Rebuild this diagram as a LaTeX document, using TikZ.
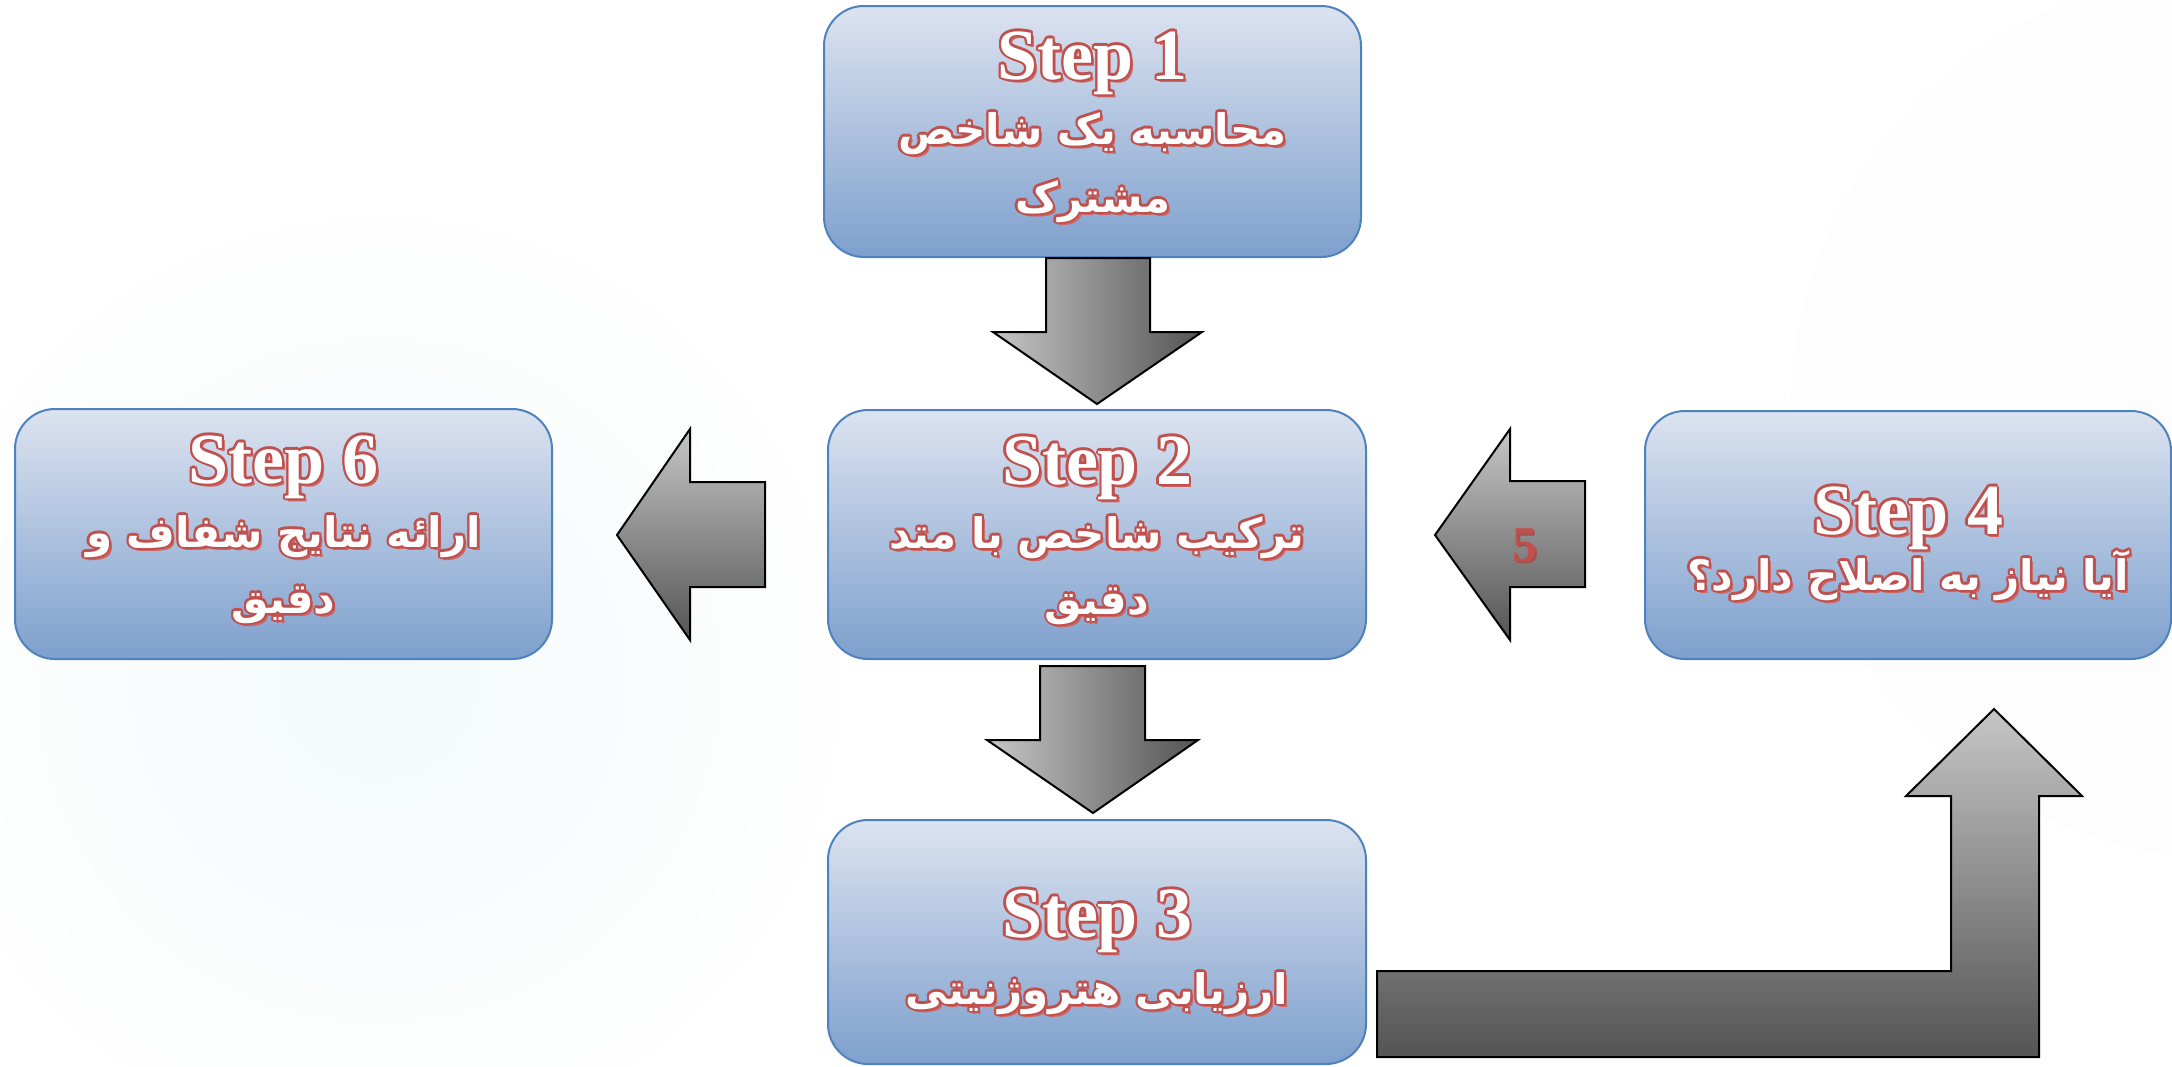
\documentclass[tikz,border=0pt]{standalone}
\usepackage{fontspec}
\setmainfont{Liberation Serif}
\newfontfamily\arabicfont[Script=Arabic]{DejaVu Sans}
\TeXXeTstate=1
\usetikzlibrary{calc}

\definecolor{boxtop}{RGB}{220,227,240}
\definecolor{boxbot}{RGB}{126,160,205}
\definecolor{boxline}{RGB}{79,129,189}
\definecolor{txtred}{RGB}{192,80,77}
\definecolor{shadowred}{RGB}{205,100,98}
\definecolor{arrlight}{RGB}{198,198,198}
\definecolor{arrdark}{RGB}{84,84,84}
\definecolor{ripple}{RGB}{150,210,210}

% white letters with a red rim and a red drop shadow
\newbox\haloBox
\newcommand\halo[2][2.2]{%
  \setbox\haloBox\hbox{#2}%
  \rlap{\kern3pt\raisebox{-3pt}{\textcolor{shadowred}{\copy\haloBox}}}%
  \foreach \ang in {0,30,...,330}{%
    \rlap{\kern\fpeval{round(#1*cosd(\ang),3)}pt\raisebox{\fpeval{round(#1*sind(\ang),3)}pt}{\textcolor{txtred}{\copy\haloBox}}}}%
  \textcolor{white}{\copy\haloBox}}
\newcommand\stepfont{\fontsize{72}{72}\selectfont\bfseries}
\newcommand\fafont{\arabicfont\bfseries\fontsize{42}{42}\selectfont}
\newcommand\fa[1]{\halo{\fafont\beginR #1\endR}}

\begin{document}
\begin{tikzpicture}[x=1pt,y=-1pt,
  stepbox/.style={rectangle, rounded corners=40pt, draw=boxline, line width=2pt,
    top color=boxtop, bottom color=boxbot, inner sep=0pt},
  blockarrow/.style={draw=black, line width=2pt, line join=miter},
  txt/.style={inner sep=0pt, anchor=base}]

\useasboundingbox (0,0) rectangle (2172,1066);

% background with faint ripples
\begin{scope}
  \clip (0,0) rectangle (2172,1066);
  \fill[white] (0,0) rectangle (2172,1066);
  \foreach \r [count=\i, evaluate=\i as \p using int(1+0.7*\i)] in {460,430,...,40}
    \fill[ripple!\p!white] (378,680) circle (\r);
  \fill[black!0.6] (2235,415) circle (445);
\end{scope}

% step boxes
\node[stepbox, minimum width=537pt, minimum height=251pt] (s1) at (1092.5,131.5) {};
\node[stepbox, minimum width=538pt, minimum height=249pt] (s2) at (1097,534.5) {};
\node[stepbox, minimum width=538pt, minimum height=244pt] (s3) at (1097,942) {};
\node[stepbox, minimum width=526pt, minimum height=248pt] (s4) at (1908,535) {};
\node[stepbox, minimum width=537pt, minimum height=250pt] (s6) at (283.5,534) {};

% box texts
\node[txt] (s1a) at ($(s1.north)+(0,74)$)  {\halo{\stepfont Step 1}};
\node[txt] (s1b) at ($(s1.north)+(0,139)$) {\fa{محاسبه یک شاخص}};
\node[txt] (s1c) at ($(s1.north)+(0,207)$) {\fa{مشترک}};

\node[txt] (s2a) at ($(s2.north)+(0,75)$)  {\halo{\stepfont Step 2}};
\node[txt] (s2b) at ($(s2.north)+(0,139)$) {\fa{ترکیب شاخص با متد}};
\node[txt] (s2c) at ($(s2.north)+(0,205)$) {\fa{دقیق}};

\node[txt] (s3a) at ($(s3.north)+(0,118)$) {\halo{\stepfont Step 3}};
\node[txt] (s3b) at ($(s3.north)+(0,185)$) {\fa{ارزیابی هتروژنیتی}};

\node[txt] (s4a) at ($(s4.north)+(0,124)$) {\halo{\stepfont Step 4}};
\node[txt] (s4b) at ($(s4.north)+(0,180)$) {\fa{آیا نیاز به اصلاح دارد؟}};

\node[txt] (s6a) at ($(s6.north)+(0,75)$)  {\halo{\stepfont Step 6}};
\node[txt] (s6b) at ($(s6.north)+(0,139)$) {\fa{ارائه نتایج شفاف و}};
\node[txt] (s6c) at ($(s6.north)+(0,205)$) {\fa{دقیق}};

% block arrows
% step 1 to step 2
\draw[blockarrow, left color=arrlight, right color=arrdark]
  (1046,258) -- (1150,258) -- (1150,332) -- (1202,332) -- (1097,404)
  -- (993,332) -- (1046,332) -- cycle;
% step 2 to step 3
\draw[blockarrow, left color=arrlight, right color=arrdark]
  (1040,666) -- (1145,666) -- (1145,740) -- (1198,740) -- (1093,813)
  -- (987,740) -- (1040,740) -- cycle;
% step 2 to step 6
\draw[blockarrow, top color=arrlight, bottom color=arrdark]
  (765,482) -- (765,587) -- (690,587) -- (690,640) -- (617,535)
  -- (690,429) -- (690,482) -- cycle;
% step 4 back to step 2
\draw[blockarrow, top color=arrlight, bottom color=arrdark]
  (1585,481) -- (1585,587) -- (1510,587) -- (1510,640) -- (1435,535)
  -- (1510,429) -- (1510,481) -- cycle;
\node[txt] (n5) at (1525,561) {\fontsize{50}{50}\selectfont\bfseries
  \rlap{\kern2pt\raisebox{-2pt}{\textcolor{shadowred!80!black}{5}}}\textcolor{txtred}{5}};
% step 3 to step 4
\draw[blockarrow, top color=arrlight, bottom color=arrdark]
  (1377,971) -- (1951,971) -- (1951,796) -- (1906,796) -- (1994,709)
  -- (2082,796) -- (2039,796) -- (2039,1057) -- (1377,1057) -- cycle;
\end{tikzpicture}
\end{document}
